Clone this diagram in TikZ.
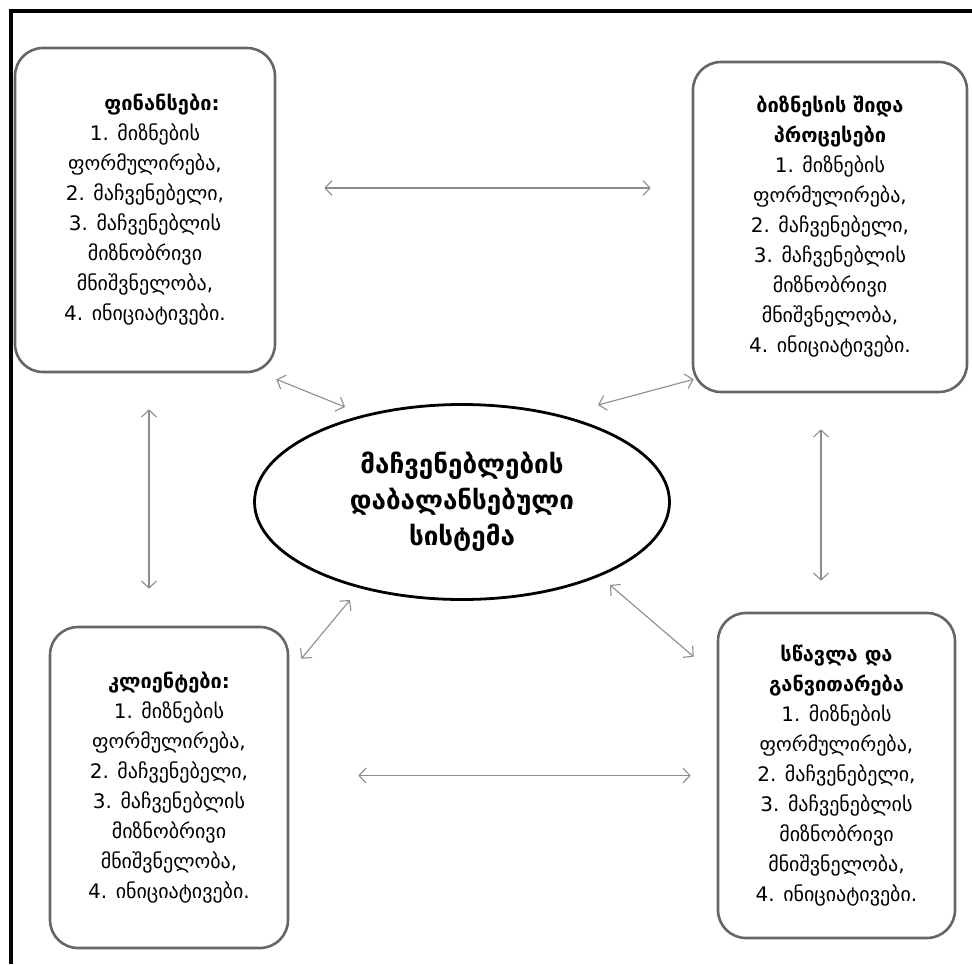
\documentclass[tikz,border=0pt]{standalone}
\usepackage{fontspec}
\setmainfont{DejaVu Sans}
\usepackage{tikz}
\usetikzlibrary{shapes,arrows,positioning,calc,arrows.meta}

% the same four steps in every perspective
\newcommand{\goallist}{1. მიზნების\\ფორმულირება,\\2. მაჩვენებელი,\\3. მაჩვენებლის\\მიზნობრივი\\მნიშვნელობა,\\4. ინიციატივები.}

\begin{document}
\begin{tikzpicture}[x=1pt,y=-1pt,
    goalbox/.style={draw=black!60, line width=2.6pt, rounded corners=28pt, align=center, inner sep=0pt, font=\fontsize{20}{30}\selectfont},
    hub/.style={draw=black, line width=2.8pt, ellipse, inner sep=0pt, align=center, font=\fontsize{26}{36}\selectfont\bfseries},
    rel/.style={draw=black!45, line width=1.1pt, {Straight Barb[length=7pt,width=15pt]}-{Straight Barb[length=7pt,width=15pt]}}]
    \useasboundingbox (0,0) rectangle (972,964);
    % frame
    \draw[line width=4pt] (10.5,964) -- (10.5,11) -- (972,11);

    % Centre
    \node[hub, minimum width=415pt, minimum height=195pt] (center) at (462,502) {მაჩვენებლების\\დაბალანსებული\\სისტემა};

    % Perspectives
    \node[goalbox, minimum width=260pt, minimum height=324pt] (fin) at (145,210) {\hspace*{34pt}\textbf{ფინანსები:}\\\goallist};
    \node[goalbox, minimum width=274pt, minimum height=330pt] (biz) at (830,227) {\textbf{ბიზნესის შიდა}\\\textbf{პროცესები}\\\goallist};
    \node[goalbox, minimum width=238pt, minimum height=321pt] (kli) at (169,787.5) {\textbf{კლიენტები:}\\\goallist};
    \node[goalbox, minimum width=237pt, minimum height=325pt] (swa) at (836.5,775.5) {\textbf{სწავლა და}\\\textbf{განვითარება}\\\goallist};

    % Links between perspectives
    \draw[rel, shorten <=48pt, shorten >=41pt] ([yshift=22pt]fin.east) -- ([yshift=22pt]fin.east -| biz.west);
    \draw[rel, shorten <=69pt, shorten >=26pt] (swa.west -| kli.east) -- (swa.west);
    \draw[rel, shorten <=36pt, shorten >=37pt] ([xshift=4pt]fin.south) -- ([xshift=4pt]fin.south |- kli.north);
    \draw[rel, shorten <=36pt, shorten >=31pt] ([xshift=-9pt]biz.south) -- ([xshift=-9pt]biz.south |- swa.north);

    % Links to the centre
    \draw[rel] ([shift={(0,6)}]fin.south east) -- ([shift={(-117,-95)}]center.center);
    \draw[rel] ([shift={(136,-97)}]center.center) -- ([shift={(2,-14)}]biz.south west);
    \draw[rel] ([shift={(12,33)}]kli.north east) -- ([shift={(-112,98)}]center.center);
    \draw[rel] ([shift={(148,83)}]center.center) -- ([shift={(-23,45)}]swa.north west);
\end{tikzpicture}
\end{document}
